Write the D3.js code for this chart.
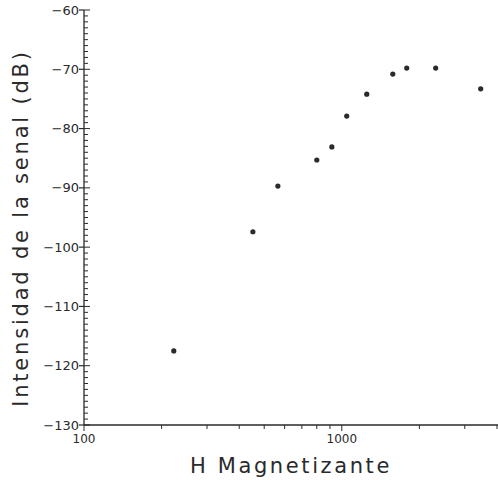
<!DOCTYPE html>
<html>
<head>
<meta charset="utf-8">
<script src="https://cdn.jsdelivr.net/npm/d3@7"></script>
<style>
  body { margin: 0; background: #fff; }
  svg { display: block; }
</style>
</head>
<body>
<script>
// data
var hField = [223, 452, 565, 800, 915, 1045, 1250, 1577, 1786, 2313, 3458];
var signalDb = [-117.5, -97.4, -89.7, -85.3, -83.1, -77.9, -74.2, -70.8, -69.8, -69.8, -73.3];
var yTicks = [-60, -70, -80, -90, -100, -110, -120, -130];
var xTickLabels = [100, 1000];

var W = 498, H = 480;
var margin = { top: 10, right: 1, bottom: 55, left: 84 };

var x = d3.scaleLog()
    .domain([100, 4000])
    .range([margin.left, W - margin.right]);
var y = d3.scaleLinear()
    .domain([-130, -60])
    .range([H - margin.bottom, margin.top]);

var svg = d3.select('body')
    .append('svg')
    .attr('width', W)
    .attr('height', H);

var ink = '#2a2a2a';
var font = 'DejaVu Sans, sans-serif';

// y axis: line, minor ticks inward, major ticks both sides
var yAxisG = svg.append('g').attr('class', 'y axis');
yAxisG.append('line')
    .attr('x1', margin.left).attr('x2', margin.left)
    .attr('y1', y(-60)).attr('y2', y(-130))
    .attr('stroke', ink).attr('stroke-width', 1.3);
var minorY = d3.range(-130, -59, 1);
yAxisG.selectAll('line.minor')
    .data(minorY)
    .enter().append('line')
    .attr('class', 'minor')
    .attr('x1', margin.left)
    .attr('x2', function (d) { return margin.left + (d % 10 === 0 ? 6 : 4); })
    .attr('y1', function (d) { return y(d); })
    .attr('y2', function (d) { return y(d); })
    .attr('stroke', ink).attr('stroke-width', 1);
yAxisG.selectAll('line.major')
    .data(yTicks)
    .enter().append('line')
    .attr('class', 'major')
    .attr('x1', margin.left - 5).attr('x2', margin.left)
    .attr('y1', function (d) { return y(d); })
    .attr('y2', function (d) { return y(d); })
    .attr('stroke', ink).attr('stroke-width', 1.2);
yAxisG.selectAll('text')
    .data(yTicks)
    .enter().append('text')
    .attr('x', margin.left - 5)
    .attr('y', function (d) { return y(d); })
    .attr('dy', '0.35em')
    .attr('text-anchor', 'end')
    .attr('font-family', font)
    .attr('font-size', 13)
    .attr('fill', ink)
    .text(function (d) { return '\u2212' + Math.abs(d); });

// x axis: log, ticks hang below the line
var xAxisG = svg.append('g').attr('class', 'x axis');
xAxisG.append('line')
    .attr('x1', margin.left).attr('x2', W)
    .attr('y1', y(-130)).attr('y2', y(-130))
    .attr('stroke', ink).attr('stroke-width', 1.3);
var xMinor = x.ticks();
xAxisG.selectAll('line.tick')
    .data(xMinor)
    .enter().append('line')
    .attr('class', 'tick')
    .attr('x1', function (d) { return x(d); })
    .attr('x2', function (d) { return x(d); })
    .attr('y1', y(-130))
    .attr('y2', function (d) { return y(-130) + (xTickLabels.indexOf(d) >= 0 ? 6 : 4); })
    .attr('stroke', ink).attr('stroke-width', 1);
xAxisG.selectAll('text')
    .data(xTickLabels)
    .enter().append('text')
    .attr('x', function (d) { return x(d); })
    .attr('y', y(-130) + 18)
    .attr('text-anchor', 'middle')
    .attr('font-family', font)
    .attr('font-size', 12)
    .attr('fill', ink)
    .text(function (d) { return d; });

// axis titles
svg.append('text')
    .attr('x', 291)
    .attr('y', 473)
    .attr('text-anchor', 'middle')
    .attr('font-family', font)
    .attr('font-size', 21)
    .attr('letter-spacing', 2.6)
    .attr('fill', ink)
    .text('H Magnetizante');

svg.append('text')
    .attr('transform', 'translate(28,' + 228 + ') rotate(-90)')
    .attr('text-anchor', 'middle')
    .attr('font-family', font)
    .attr('font-size', 21)
    .attr('letter-spacing', 2.8)
    .attr('fill', ink)
    .text('Intensidad de la senal (dB)');

// points
svg.append('g')
    .selectAll('circle')
    .data(signalDb)
    .enter().append('circle')
    .attr('cx', function (d, i) { return x(hField[i]); })
    .attr('cy', function (d) { return y(d); })
    .attr('r', 2.6)
    .attr('fill', ink);
</script>
</body>
</html>
